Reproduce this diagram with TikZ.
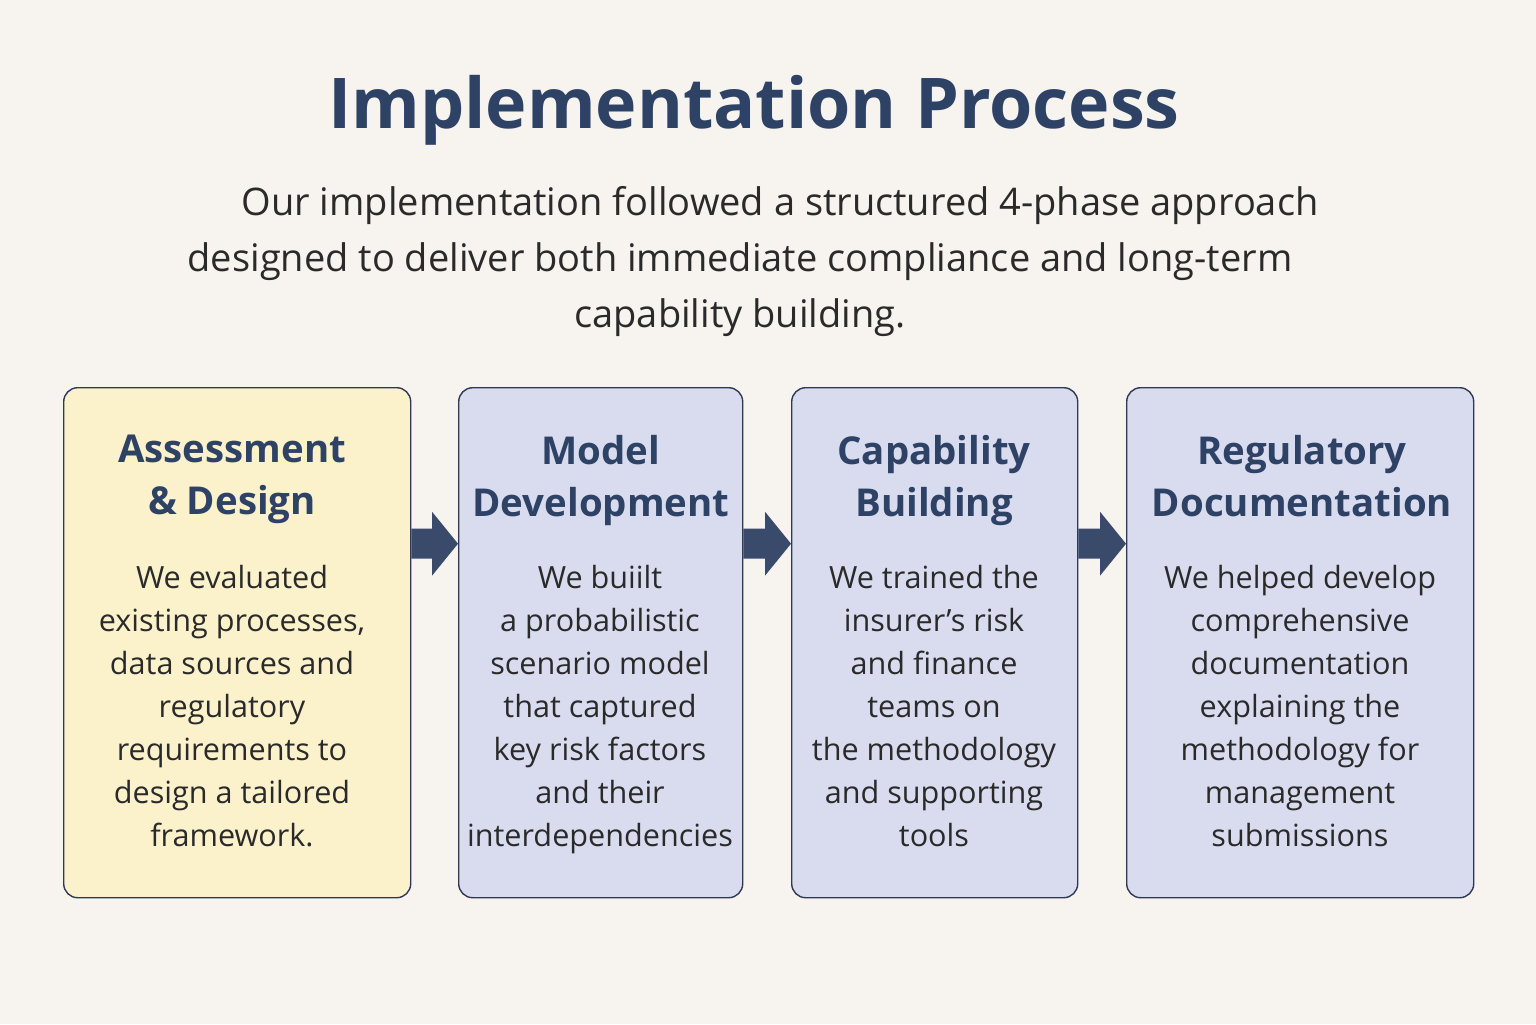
\documentclass[tikz,border=0pt]{standalone}
\usepackage{fontspec}
\setmainfont{Open Sans}
\usetikzlibrary{calc}
\definecolor{bgc}{HTML}{F7F3EE}
\definecolor{yel}{HTML}{FBF2CC}
\definecolor{lav}{HTML}{D9DCEF}
\definecolor{edge}{HTML}{2E3A55}
\definecolor{navy}{HTML}{2E4266}
\definecolor{arr}{HTML}{3A4A6B}
\definecolor{txt}{HTML}{2A2A2A}
\begin{document}
\begin{tikzpicture}[x=0.5pt,y=-0.5pt,
  phase/.style={draw=edge,line width=0.7pt,rounded corners=7pt,anchor=north west,inner sep=0pt},
  ptitle/.style={text=navy,font=\fontsize{19.2}{26}\selectfont\bfseries,align=center,anchor=north},
  pbody/.style={text=txt,font=\fontsize{15.3}{21.5}\selectfont,align=center,anchor=north}]
\fill[bgc] (0,0) rectangle (1536,1024);
\useasboundingbox (0,0) rectangle (1536,1024);
\node[text=navy,font=\fontsize{35}{42}\selectfont\bfseries] (title) at (754,110) {Implementation Process};
\node[text=txt,font=\fontsize{19}{28}\selectfont,align=center] (sub) at (740,262) {\hspace*{40pt}Our implementation followed a structured 4-phase approach\\designed to deliver both immediate compliance and long-term\\capability building.};
\node[phase,fill=yel,minimum width=173.5pt,minimum height=255pt] (b1) at (63,387) {};
\node[phase,fill=lav,minimum width=142pt,minimum height=255pt] (b2) at (458,387) {};
\node[phase,fill=lav,minimum width=143pt,minimum height=255pt] (b3) at (791,387) {};
\node[phase,fill=lav,minimum width=173.5pt,minimum height=255pt] (b4) at (1126,387) {};
\node[ptitle] (t1) at (232,428) {Assessment\\\& Design};
\node[ptitle] (t2) at (601,428) {Model\\Development};
\node[ptitle] (t3) at (934,428) {Capability\\Building};
\node[ptitle] (t4) at (1302,428) {Regulatory\\Documentation};
\node[pbody] (x1) at (232,558) {We evaluated\\existing processes,\\data sources and\\regulatory\\requirements to\\design a tailored\\framework.};
\node[pbody] (x2) at (600,558) {We buiilt\\a probabilistic\\scenario model\\that captured\\key risk factors\\and their\\interdependencies};
\node[pbody] (x3) at (934,558) {We trained the\\insurer’s risk\\and finance\\teams on\\the methodology\\and supporting\\tools};
\node[pbody] (x4) at (1300,558) {We helped develop\\comprehensive\\documentation\\explaining the\\methodology for\\management\\submissions};
\foreach \a/\b in {b1/b2,b2/b3,b3/b4}{
  \coordinate (s) at ($(\a.east)+(0,-99)$);
  \coordinate (e) at ($(\b.west)+(0,-99)$);
  \fill[arr] ($(s)+(0,-15)$) -- ($(e)+(-26,-15)$) -- ($(e)+(-26,-32)$) -- (e) -- ($(e)+(-26,32)$) -- ($(e)+(-26,15)$) -- ($(s)+(0,15)$) -- cycle;
}
\end{tikzpicture}
\end{document}
